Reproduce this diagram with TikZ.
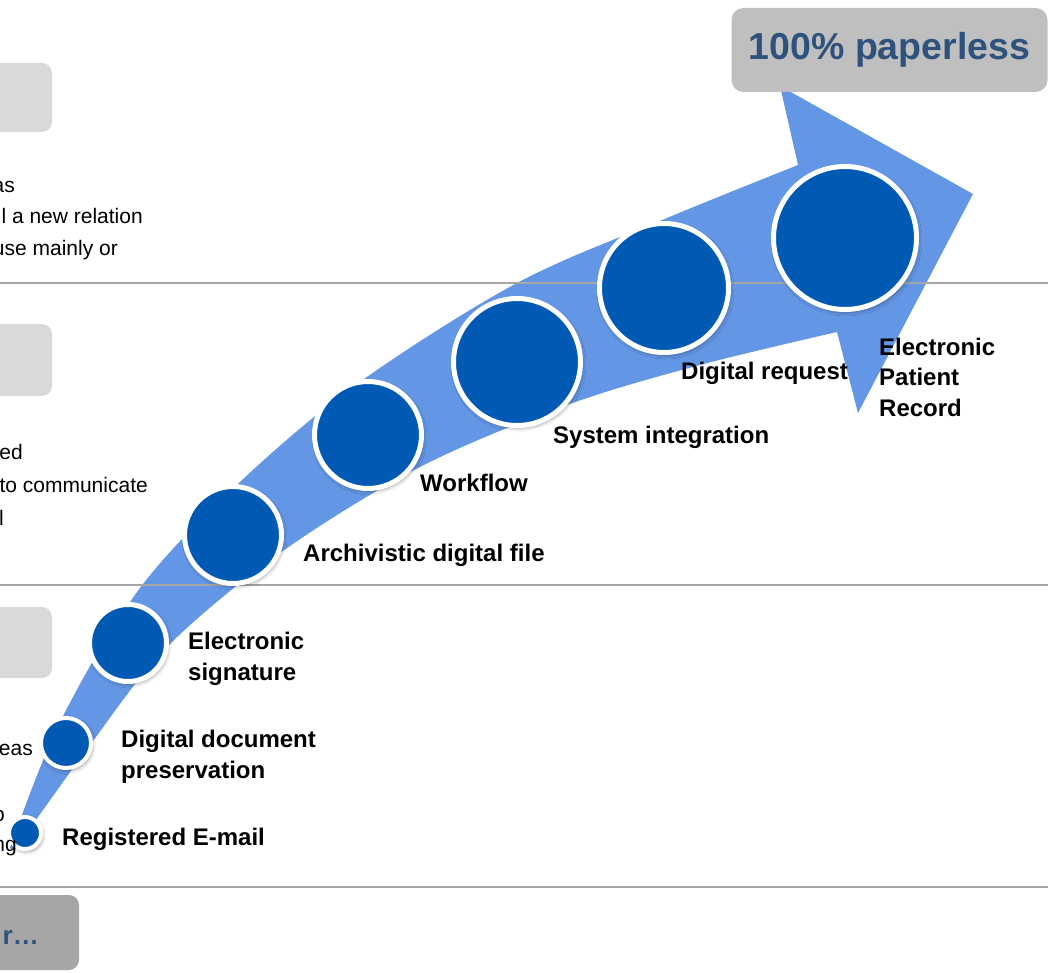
\documentclass[tikz,border=0pt]{standalone}
\usepackage{fontspec}
\setmainfont{Liberation Sans}
\usepackage{tikz}
\usetikzlibrary{shadows.blur}
\definecolor{arrowblue}{RGB}{99,150,228}
\definecolor{stopblue}{RGB}{0,89,179}
\definecolor{tabgray}{RGB}{217,217,217}
\definecolor{goalgray}{RGB}{191,191,191}
\definecolor{nextgray}{RGB}{166,166,166}
\definecolor{titleblue}{RGB}{47,82,125}
\definecolor{rulegray}{RGB}{166,166,166}
\newcommand{\milestonedot}[4]{
	\node[milestone, line width=#3, minimum size=#4] (#1) at (#2) {};
}

\begin{document}
\begin{tikzpicture}[x=1pt, y=-1pt,
	milestone/.style={circle, inner sep=0pt, fill=stopblue, draw=white, blur shadow={shadow xshift=1.5pt, shadow yshift=-2.5pt, shadow blur radius=4pt, shadow opacity=40}},
	steplabel/.style={font=\bfseries\fontsize{24}{30.5}\selectfont, align=left, inner sep=0pt},
	fragtext/.style={font=\fontsize{21}{25}\selectfont, anchor=base east, inner sep=0pt},
	sepline/.style={rulegray, line width=1.8pt}]
				\useasboundingbox (0,0) rectangle (1048,973);
				\fill[arrowblue] plot[smooth, tension=0.55] coordinates {(10,848) (60,722) (140,588) (240,482) (357,384) (517,283) (667,218) (798,165)}
					-- (780,86) -- (973,194) -- (858,413) -- (837,332)
					-- plot[smooth, tension=0.55] coordinates {(837,332) (700,365) (567,405) (420,467) (280,553) (167,647) (90,745) (14,851)} -- cycle;
				\draw[sepline] (0,283) -- (1048,283);
				\draw[sepline] (0,585) -- (1048,585);
				\draw[sepline] (0,887) -- (1048,887);
				\fill[tabgray, rounded corners=10pt] (-20,63) rectangle (52,132);
				\fill[tabgray, rounded corners=10pt] (-20,324) rectangle (52,396);
				\fill[tabgray, rounded corners=10pt] (-20,607) rectangle (52,678);
				\fill[nextgray, rounded corners=10pt] (-20,895) rectangle (79,970);
				\node[font=\bfseries\fontsize{26}{30}\selectfont, text=titleblue, anchor=base east, inner sep=0pt] (nexttext) at (39,944) {r…};
				\node[fragtext] (fragA) at (15,193) {as};
				\node[fragtext] (fragB) at (143,224) {l a new relation};
				\node[fragtext] (fragC) at (118,256) {use mainly or};
				\node[fragtext] (fragD) at (23,459) {ed};
				\node[fragtext] (fragE) at (148,492) {to communicate};
				\node[fragtext] (fragF) at (4,525) {l};
				\node[fragtext] (fragG) at (33,755) {eas};
				\milestonedot{mail}{25,833}{4pt}{32pt}
				\milestonedot{preserve}{66,743}{4pt}{50pt}
				\milestonedot{esign}{128,643}{5pt}{77pt}
				\milestonedot{archive}{233,535}{5pt}{97pt}
				\milestonedot{flow}{368,435}{5pt}{107pt}
				\milestonedot{integr}{517,362}{5pt}{127pt}
				\milestonedot{request}{664,288}{5pt}{129pt}
				\milestonedot{record}{845,238}{5pt}{143pt}
				\node[fragtext] (fragH) at (5,821) {o};
				\node[fragtext] (fragI) at (17,851) {ng};
				\node[steplabel, anchor=base west] (maillabel) at (62,845) {Registered E-mail};
				\node[steplabel, anchor=west] (preservelabel) at (121,757) {Digital document\\preservation};
				\node[steplabel, anchor=west] (esignlabel) at (188,659) {Electronic\\signature};
				\node[steplabel, anchor=base west] (archivelabel) at (303,561) {Archivistic digital file};
				\node[steplabel, anchor=base west] (flowlabel) at (420,491) {Workflow};
				\node[steplabel, anchor=base west] (integrlabel) at (553,443) {System integration};
				\node[steplabel, anchor=base west] (requestlabel) at (681,379) {Digital request};
				\node[steplabel, anchor=west] (recordlabel) at (879,377) {Electronic\\Patient\\Record};
				\node[fill=goalgray, rounded corners=12pt, minimum width=316pt, minimum height=84pt, inner sep=0pt, text=titleblue, font=\bfseries\fontsize{37.5}{40}\selectfont] (goal) at (889.5,50) {100\% paperless};
			\end{tikzpicture}
\end{document}
